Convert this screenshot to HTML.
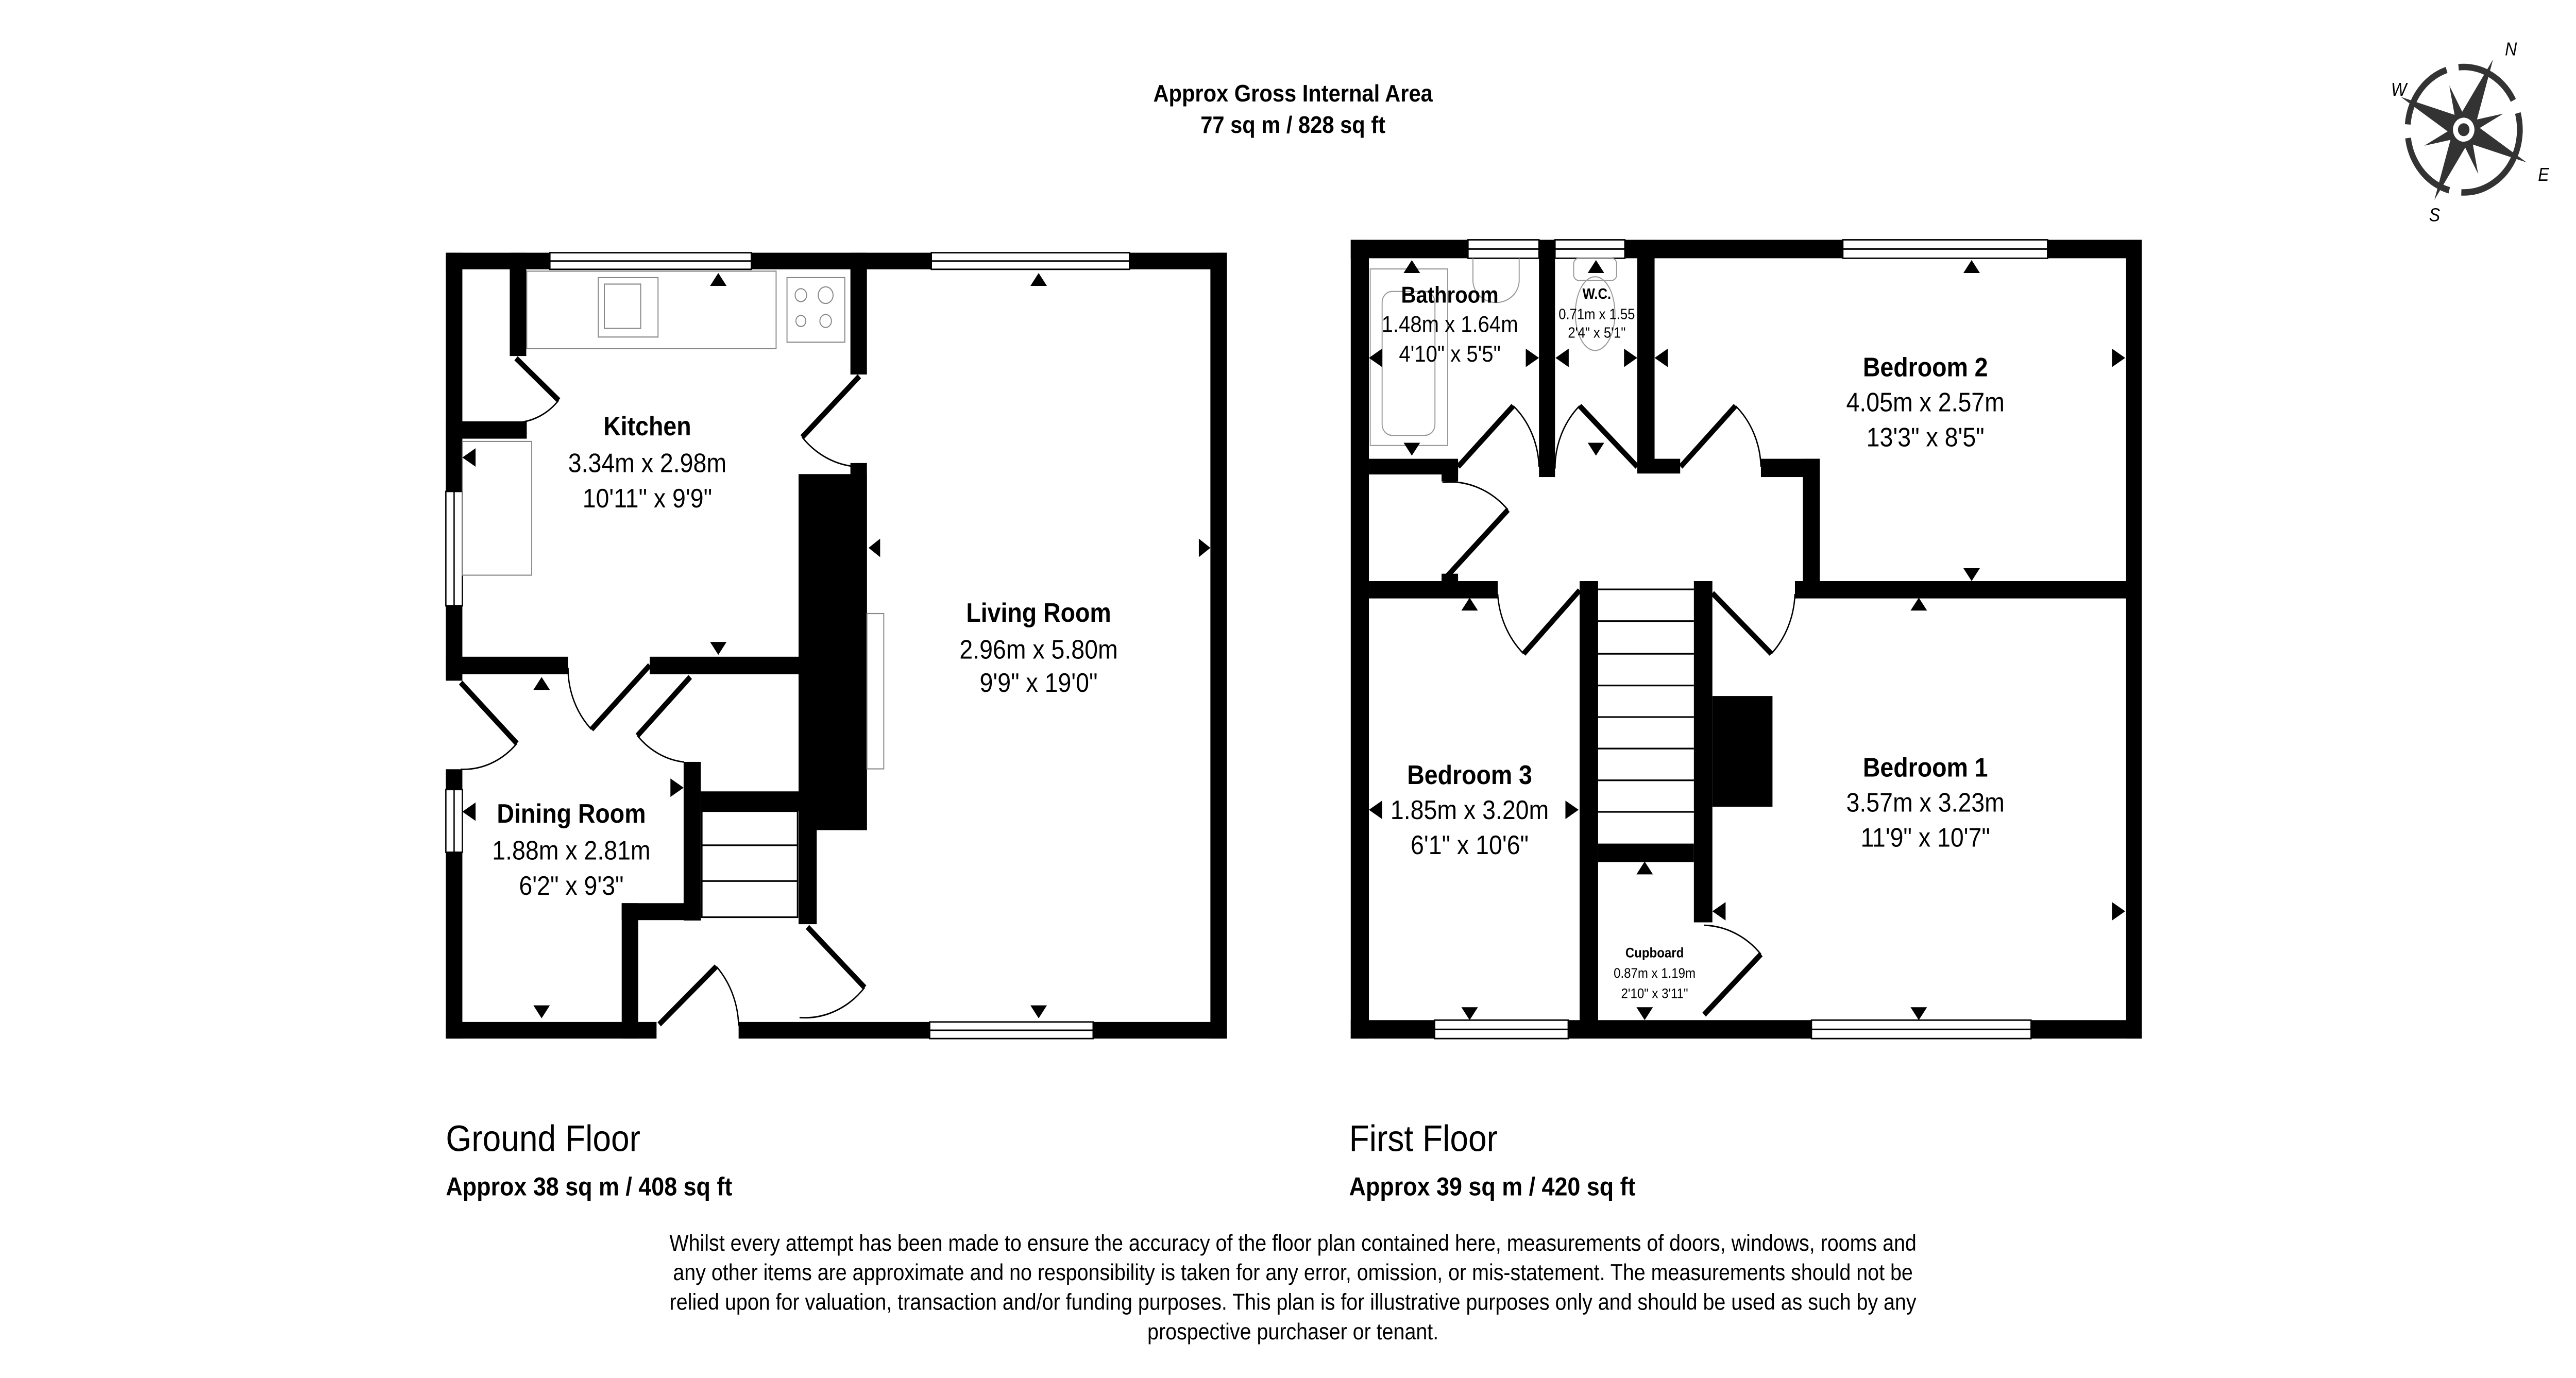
<!DOCTYPE html>
<html><head><meta charset="utf-8">
<style>
html,body{margin:0;padding:0;background:#fff;width:100%;height:100%;overflow:hidden}
svg{display:block;position:fixed;left:0;top:0;width:100vw;height:100vh}
text{font-family:"Liberation Sans",Arial,sans-serif;fill:#000}
</style></head><body>
<svg viewBox="0 0 1560 747" preserveAspectRatio="none" xmlns="http://www.w3.org/2000/svg">
<rect width="1560" height="747" fill="#fff"/>
<text x="783" y="55" font-size="13" font-weight="bold" text-anchor="middle">Approx Gross Internal Area</text>
<text x="783" y="72" font-size="13" font-weight="bold" text-anchor="middle">77 sq m / 828 sq ft</text>

<g transform="translate(1492,70.3) rotate(25)" fill="#333">
<circle r="34" fill="none" stroke="#333" stroke-width="3.5" stroke-dasharray="40 7.4"/>
<polygon points="0,-42 5,-8 0,0 -5,-8"/>
<polygon points="0,42 5,8 0,0 -5,8"/>
<polygon points="-42,0 -8,5 0,0 -8,-5"/>
<polygon points="42,0 8,5 0,0 8,-5"/>
<polygon points="-18,-18 -3,-7 0,0 -7,-3"/>
<polygon points="18,-18 3,-7 0,0 7,-3"/>
<polygon points="-18,18 -3,7 0,0 -7,3"/>
<polygon points="18,18 3,7 0,0 7,3"/>
<circle r="7.5" fill="#fff" stroke="#333" stroke-width="2"/>
<circle r="3.5"/>
</g>
<text x="1517" y="30" font-size="10" font-style="italic" fill="#333">N</text>
<text x="1448" y="52" font-size="10" font-style="italic" fill="#333">W</text>
<text x="1537" y="98" font-size="10" font-style="italic" fill="#333">E</text>
<text x="1471" y="120" font-size="10" font-style="italic" fill="#333">S</text>

<g fill="#000">
<rect x="270" y="137" width="473" height="9"/>
<rect x="270" y="137" width="10" height="232"/>
<rect x="270" y="417" width="10" height="146"/>
<rect x="733" y="137" width="10" height="426"/>
<rect x="270" y="554" width="127.6" height="9"/>
<rect x="447.3" y="554" width="295.7" height="9"/>
<rect x="308.7" y="137" width="10" height="56"/>
<rect x="270" y="228.4" width="49" height="9.4"/>
<rect x="515" y="137" width="10" height="66"/>
<rect x="515" y="251" width="10" height="199"/>
<rect x="483.6" y="257" width="41.4" height="193"/>
<rect x="483.6" y="430" width="11" height="71"/>
<rect x="270" y="356" width="74" height="9.5"/>
<rect x="393.5" y="356" width="90.1" height="9.5"/>
<rect x="414" y="413" width="10.4" height="86"/>
<rect x="376.5" y="489.6" width="47.9" height="9.2"/>
<rect x="376.5" y="489.6" width="10" height="73.4"/>
<rect x="424.4" y="429" width="59.2" height="10.7"/>
</g>
<g fill="#fff" stroke="#000" stroke-width="0.8">
<rect x="333" y="137" width="122" height="9"/>
<line x1="333" y1="141.5" x2="455" y2="141.5"/>
<rect x="564" y="137" width="120" height="9"/>
<line x1="564" y1="141.5" x2="684" y2="141.5"/>
<rect x="563" y="554" width="99" height="9"/>
<line x1="563" y1="558.5" x2="662" y2="558.5"/>
<rect x="270" y="266.4" width="10" height="62"/>
<line x1="275" y1="266.4" x2="275" y2="328.4"/>
<rect x="270" y="428" width="10" height="34"/>
<line x1="275" y1="428" x2="275" y2="462"/>
</g>
<g fill="none" stroke="#888" stroke-width="0.6">
<rect x="319" y="147" width="151" height="42"/>
<rect x="362.3" y="150.5" width="36.2" height="32.2"/>
<rect x="366" y="154" width="22" height="24"/>
<rect x="476.6" y="150.5" width="35" height="35"/>
<circle cx="485" cy="160" r="3.5"/><circle cx="500" cy="160" r="4.5"/>
<circle cx="485" cy="174" r="3"/><circle cx="500" cy="174" r="3.5"/>
<rect x="280" y="239.3" width="42" height="72.5"/>
<rect x="525" y="332.6" width="10.2" height="84.2"/>
</g>
<g fill="none" stroke="#000" stroke-width="0.9">
<rect x="425" y="439.7" width="58" height="57.5"/>
<line x1="425" y1="458.2" x2="483" y2="458.2"/>
<line x1="425" y1="477.6" x2="483" y2="477.6"/>
</g>
<g stroke="#000" fill="none">
<line x1="393.5" y1="360.6" x2="358.2" y2="395.4" stroke-width="3"/>
<path d="M344,362 A46,46 0 0 0 358.2,395.4" stroke-width="0.8"/>
<line x1="418" y1="367" x2="386" y2="398.8" stroke-width="3"/>
<path d="M386,398.8 A44,44 0 0 0 414.3,413.1" stroke-width="0.8"/>
<line x1="279" y1="370" x2="313" y2="403" stroke-width="3"/>
<path d="M313,403 A44,44 0 0 1 279,417" stroke-width="0.8"/>
<line x1="399.2" y1="555.3" x2="433.8" y2="523.9" stroke-width="3"/>
<path d="M433.8,523.9 A48,48 0 0 1 447.3,556" stroke-width="0.8"/>
<line x1="489" y1="502.5" x2="523.6" y2="535.3" stroke-width="3"/>
<path d="M523.6,535.3 A48,48 0 0 1 484.2,551.6" stroke-width="0.8"/>
<line x1="312.5" y1="194.2" x2="338.3" y2="217" stroke-width="3"/>
<path d="M338.3,217 A36,36 0 0 1 314,229" stroke-width="0.8"/>
<line x1="520.4" y1="204" x2="485.8" y2="237" stroke-width="3"/>
<path d="M485.8,237 A48,48 0 0 0 515.7,252.7" stroke-width="0.8"/>
</g>
<g fill="#000">
<polygon points="435,148 430,155 440,155"/>
<polygon points="435,355 430,348 440,348"/>
<polygon points="280,248 288,243 288,253"/>
<polygon points="629,148 624,155 634,155"/>
<polygon points="629,552 624,545 634,545"/>
<polygon points="526,297 533,292 533,302"/>
<polygon points="733,297 726,292 726,302"/>
<polygon points="328,367 323,374 333,374"/>
<polygon points="328,552 323,545 333,545"/>
<polygon points="280,440 288,435 288,445"/>
<polygon points="414,427 406,422 406,432"/>
</g>
<text x="392" y="236" font-size="14.5" font-weight="bold" text-anchor="middle">Kitchen</text>
<text x="392" y="256" font-size="14.5" text-anchor="middle">3.34m x 2.98m</text>
<text x="392" y="275" font-size="14.5" text-anchor="middle">10'11" x 9'9"</text>
<text x="629" y="337" font-size="14.5" font-weight="bold" text-anchor="middle">Living Room</text>
<text x="629" y="357" font-size="14.5" text-anchor="middle">2.96m x 5.80m</text>
<text x="629" y="375" font-size="14.5" text-anchor="middle">9'9" x 19'0"</text>
<text x="346" y="446" font-size="14.5" font-weight="bold" text-anchor="middle">Dining Room</text>
<text x="346" y="466" font-size="14.5" text-anchor="middle">1.88m x 2.81m</text>
<text x="346" y="485" font-size="14.5" text-anchor="middle">6'2" x 9'3"</text>

<g fill="#000">
<rect x="818" y="130" width="479" height="10"/>
<rect x="818" y="130" width="11" height="433"/>
<rect x="1287.5" y="130" width="9.5" height="433"/>
<rect x="818" y="553" width="479" height="10"/>
<rect x="932" y="130" width="9.7" height="128.6"/>
<rect x="991.5" y="130" width="10.5" height="126"/>
<rect x="991.5" y="248.7" width="26" height="8"/>
<rect x="1066.4" y="248.7" width="35.6" height="9.9"/>
<rect x="1091.8" y="248.7" width="10.2" height="75"/>
<rect x="1087" y="315" width="210" height="9.4"/>
<rect x="829" y="248.7" width="54" height="8.5"/>
<rect x="873" y="250" width="10" height="11"/>
<rect x="829" y="315" width="78" height="9.4"/>
<rect x="873" y="311" width="10" height="8"/>
<rect x="956.6" y="315" width="11.2" height="240"/>
<rect x="1025.8" y="315" width="11.2" height="185"/>
<rect x="967.8" y="457.3" width="58" height="10"/>
<rect x="1037" y="377.3" width="36.4" height="60"/>
</g>
<g fill="#fff" stroke="#000" stroke-width="0.8">
<rect x="889" y="130" width="43" height="10"/><line x1="889" y1="135" x2="932" y2="135"/>
<rect x="941.7" y="130" width="42.3" height="10"/><line x1="941.7" y1="135" x2="984" y2="135"/>
<rect x="1116" y="130" width="124" height="10"/><line x1="1116" y1="135" x2="1240" y2="135"/>
<rect x="868.8" y="553" width="80.9" height="10"/><line x1="868.8" y1="558" x2="949.7" y2="558"/>
<rect x="1097" y="553" width="133" height="10"/><line x1="1097" y1="558" x2="1230" y2="558"/>
</g>
<g fill="none" stroke="#999" stroke-width="0.6">
<rect x="829.8" y="145.8" width="46.9" height="95.7"/>
<rect x="837" y="158" width="32" height="78" rx="6"/>
<path d="M892,140 L892,152 A14,12 0 0 0 920,152 L920,140"/>
<rect x="953" y="140" width="26" height="12" rx="3"/>
<ellipse cx="966" cy="170" rx="12" ry="20"/>
</g>
<g stroke="#000" stroke-width="0.9" fill="none">
<line x1="967.8" y1="319.5" x2="1025.8" y2="319.5"/>
<line x1="967.8" y1="336.7" x2="1025.8" y2="336.7"/>
<line x1="967.8" y1="354.4" x2="1025.8" y2="354.4"/>
<line x1="967.8" y1="371.6" x2="1025.8" y2="371.6"/>
<line x1="967.8" y1="388.7" x2="1025.8" y2="388.7"/>
<line x1="967.8" y1="405.8" x2="1025.8" y2="405.8"/>
<line x1="967.8" y1="423" x2="1025.8" y2="423"/>
<line x1="967.8" y1="440.1" x2="1025.8" y2="440.1"/>
</g>
<g stroke="#000" fill="none">
<line x1="883" y1="253" x2="916.4" y2="220" stroke-width="3"/>
<path d="M916.4,220 A46,46 0 0 1 932,253" stroke-width="0.8"/>
<line x1="991.5" y1="253" x2="956.6" y2="220" stroke-width="3"/>
<path d="M956.6,220 A46,46 0 0 0 941.7,254" stroke-width="0.8"/>
<line x1="1017.8" y1="253" x2="1051" y2="220" stroke-width="3"/>
<path d="M1051,220 A46,46 0 0 1 1066.4,253" stroke-width="0.8"/>
<line x1="876.7" y1="312" x2="913.2" y2="276.4" stroke-width="3"/>
<path d="M913.2,276.4 A48,48 0 0 0 873.5,261.5" stroke-width="0.8"/>
<line x1="956.6" y1="320" x2="922.7" y2="354.4" stroke-width="3"/>
<path d="M922.7,354.4 A48,48 0 0 1 907,322" stroke-width="0.8"/>
<line x1="1037" y1="321.5" x2="1072.7" y2="354.4" stroke-width="3"/>
<path d="M1072.7,354.4 A48,48 0 0 0 1087,322" stroke-width="0.8"/>
<line x1="1032" y1="550" x2="1066.4" y2="517.3" stroke-width="3"/>
<path d="M1066.4,517.3 A48,48 0 0 0 1032,501.6" stroke-width="0.8"/>
</g>
<g fill="#000">
<polygon points="855,141 850,148 860,148"/>
<polygon points="855,247 850,240 860,240"/>
<polygon points="829,194 837,189 837,199"/>
<polygon points="932,194 924,189 924,199"/>
<polygon points="966.5,141 961.5,148 971.5,148"/>
<polygon points="966.5,247 961.5,240 971.5,240"/>
<polygon points="942,194 950,189 950,199"/>
<polygon points="991.5,194 983.5,189 983.5,199"/>
<polygon points="1194,141 1189,148 1199,148"/>
<polygon points="1194,315 1189,308 1199,308"/>
<polygon points="1002,194 1010,189 1010,199"/>
<polygon points="1287,194 1279,189 1279,199"/>
<polygon points="890,324 885,331 895,331"/>
<polygon points="890,553 885,546 895,546"/>
<polygon points="829,439 837,434 837,444"/>
<polygon points="956,439 948,434 948,444"/>
<polygon points="1162,324 1157,331 1167,331"/>
<polygon points="1162,553 1157,546 1167,546"/>
<polygon points="1037,494 1045,489 1045,499"/>
<polygon points="1287,494 1279,489 1279,499"/>
<polygon points="996,467 991,474 1001,474"/>
<polygon points="996,553 991,546 1001,546"/>
</g>
<text x="878" y="164" font-size="12.5" font-weight="bold" text-anchor="middle">Bathroom</text>
<text x="878" y="180" font-size="12.5" text-anchor="middle">1.48m x 1.64m</text>
<text x="878" y="196" font-size="12.5" text-anchor="middle">4'10" x 5'5"</text>
<text x="967" y="162" font-size="8" font-weight="bold" text-anchor="middle">W.C.</text>
<text x="967" y="173" font-size="8" text-anchor="middle">0.71m x 1.55</text>
<text x="967" y="183" font-size="8" text-anchor="middle">2'4" x 5'1"</text>
<text x="1166" y="204" font-size="14.5" font-weight="bold" text-anchor="middle">Bedroom 2</text>
<text x="1166" y="223" font-size="14.5" text-anchor="middle">4.05m x 2.57m</text>
<text x="1166" y="242" font-size="14.5" text-anchor="middle">13'3" x 8'5"</text>
<text x="890" y="425" font-size="14.5" font-weight="bold" text-anchor="middle">Bedroom 3</text>
<text x="890" y="444" font-size="14.5" text-anchor="middle">1.85m x 3.20m</text>
<text x="890" y="463" font-size="14.5" text-anchor="middle">6'1" x 10'6"</text>
<text x="1166" y="421" font-size="14.5" font-weight="bold" text-anchor="middle">Bedroom 1</text>
<text x="1166" y="440" font-size="14.5" text-anchor="middle">3.57m x 3.23m</text>
<text x="1166" y="459" font-size="14.5" text-anchor="middle">11'9" x 10'7"</text>
<text x="1002" y="519" font-size="7.5" font-weight="bold" text-anchor="middle">Cupboard</text>
<text x="1002" y="530" font-size="7.5" text-anchor="middle">0.87m x 1.19m</text>
<text x="1002" y="541" font-size="7.5" text-anchor="middle">2'10" x 3'11"</text>

<text x="270" y="624" font-size="20">Ground Floor</text>
<text x="270" y="648" font-size="14" font-weight="bold">Approx 38 sq m / 408 sq ft</text>
<text x="817" y="624" font-size="20">First Floor</text>
<text x="817" y="648" font-size="14" font-weight="bold">Approx 39 sq m / 420 sq ft</text>
<g font-size="12.3" text-anchor="middle">
<text x="783" y="678">Whilst every attempt has been made to ensure the accuracy of the floor plan contained here, measurements of doors, windows, rooms and</text>
<text x="783" y="694">any other items are approximate and no responsibility is taken for any error, omission, or mis-statement. The measurements should not be</text>
<text x="783" y="710">relied upon for valuation, transaction and/or funding purposes. This plan is for illustrative purposes only and should be used as such by any</text>
<text x="783" y="726">prospective purchaser or tenant.</text>
</g>
</svg>
</body></html>
